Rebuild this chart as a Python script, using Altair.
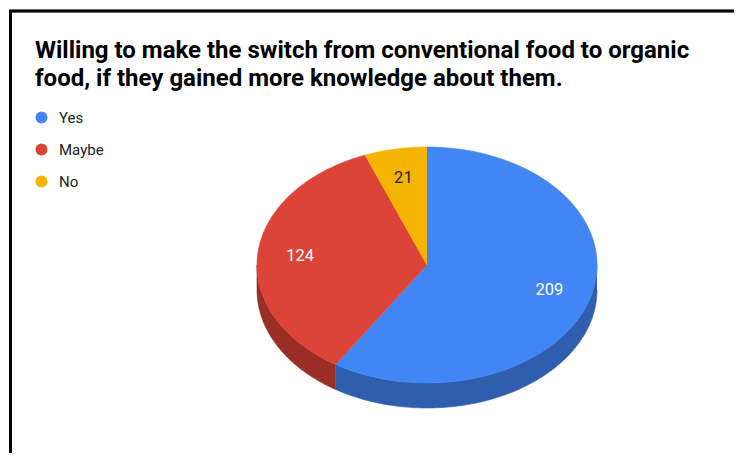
import altair as alt
import pandas as pd

# ---- data ----
categories = ["Yes", "Maybe", "No"]
values = [209, 124, 21]
order_idx = [0, 1, 2]

title_lines = ["Willing to make the switch from conventional food to organic",
               "food, if they gained more knowledge about them."]

# ---- styles ----
top_colors = ["#4285f4", "#db4437", "#f4b400"]
side_colors = ["#2f5eae", "#9a2e25", "#a87c00"]
label_colors = ["#ffffff", "#ffffff", "#212121"]

# ---- layout (pixels) ----
W, H = 726, 445
CX, CY = 419, 257       # ellipse centre in svg coords
RX, RY = 170, 118       # ellipse radii
DEPTH = 25              # thickness of the 3D wall
N = 120                 # arc resolution

xdom = [-CX / RX, (W - CX) / RX]
ydom = [-(H - CY) / RY, CY / RY]
depth_u = DEPTH / RY

df = pd.DataFrame({"category": categories, "value": values, "o": order_idx})

xs = alt.Scale(domain=xdom, nice=False, zero=False)
ys = alt.Scale(domain=ydom, nice=False, zero=False)

base = alt.Chart(df).transform_window(
    cum="sum(value)", sort=[alt.SortField("o")], frame=[None, 0]
).transform_joinaggregate(
    total="sum(value)"
).transform_calculate(
    a0="2*PI*(datum.cum - datum.value)/datum.total",
    a1="2*PI*datum.cum/datum.total",
)

# top faces
top = base.transform_calculate(
    idx=f"sequence(0, {N + 2})"
).transform_flatten(["idx"]).transform_calculate(
    ang=f"datum.a0 + max(datum.idx - 1, 0)/{N}*(datum.a1 - datum.a0)",
    t="datum.idx == 0 ? 0 : 1",
).transform_calculate(
    px="datum.t*sin(datum.ang)",
    py="datum.t*cos(datum.ang)",
).mark_line(strokeWidth=0.6, interpolate="linear").encode(
    x=alt.X("px:Q", scale=xs, axis=None),
    y=alt.Y("py:Q", scale=ys, axis=None),
    order=alt.Order("idx:Q"),
    fill=alt.Fill("category:N", scale=alt.Scale(domain=categories, range=top_colors),
                  sort=categories, legend=alt.Legend(title=None)),
    stroke=alt.Stroke("category:N", scale=alt.Scale(domain=categories, range=top_colors),
                      legend=None),
    detail="category:N",
)

# side walls (front half only)
wall = base.transform_calculate(
    b0="max(datum.a0, PI/2)",
    b1="min(datum.a1, 3*PI/2)",
).transform_filter("datum.b1 > datum.b0").transform_calculate(
    idx=f"sequence(0, {2 * N + 2})"
).transform_flatten(["idx"]).transform_calculate(
    ang=f"datum.idx <= {N} ? datum.b0 + datum.idx/{N}*(datum.b1 - datum.b0) : datum.b1 - (datum.idx - {N + 1})/{N}*(datum.b1 - datum.b0)",
    dz=f"datum.idx <= {N} ? 0 : {depth_u}",
).transform_calculate(
    px="sin(datum.ang)",
    py="cos(datum.ang) - datum.dz",
).mark_line(strokeWidth=0.6).encode(
    x=alt.X("px:Q", scale=xs, axis=None),
    y=alt.Y("py:Q", scale=ys, axis=None),
    order=alt.Order("idx:Q"),
    fill=alt.Fill("category:N", scale=alt.Scale(domain=categories, range=side_colors), legend=None),
    stroke=alt.Stroke("category:N", scale=alt.Scale(domain=categories, range=side_colors), legend=None),
    detail="category:N",
)

labels = base.transform_calculate(
    mid="(datum.a0 + datum.a1)/2",
).transform_calculate(
    px="0.75*sin(datum.mid)",
    py="0.75*cos(datum.mid)",
).mark_text(font="Roboto", fontSize=16.5, align="center", baseline="middle").encode(
    x=alt.X("px:Q", scale=xs, axis=None),
    y=alt.Y("py:Q", scale=ys, axis=None),
    text="value:Q",
    color=alt.Color("category:N", scale=alt.Scale(domain=categories, range=label_colors), legend=None),
)

frame_left = alt.Chart(df).mark_rule(color="black", strokeWidth=2.5).encode(
    x=alt.value(2.5), y=alt.value(2), y2=alt.value(H)
)
frame_top = alt.Chart(df).mark_rule(color="black", strokeWidth=2.5).encode(
    x=alt.value(1.25), x2=alt.value(W), y=alt.value(3)
)

chart = alt.layer(wall, top, labels, frame_left, frame_top).resolve_scale(
    fill="independent", stroke="independent", color="independent"
).properties(
    width=W, height=H,
    autosize=alt.AutoSizeParams(type="none"),
    padding=0,
    title=alt.TitleParams(
        text=title_lines, anchor="start", frame="group", orient="top",
        offset=0, dx=27, dy=102, baseline="alphabetic",
        font="Roboto", fontSize=24, fontWeight="bold", color="#000000", lineHeight=28,
    ),
).configure_view(stroke=None).configure_legend(
    orient="none", legendX=26, legendY=102, padding=0,
    symbolType="circle", symbolSize=144, symbolStrokeWidth=0, symbolOpacity=1,
    labelFont="Roboto", labelFontSize=15, labelColor="#212121", labelOffset=10,
    rowPadding=16,
)

chart.save("out.html", embed_options={"renderer": "svg", "actions": False})
